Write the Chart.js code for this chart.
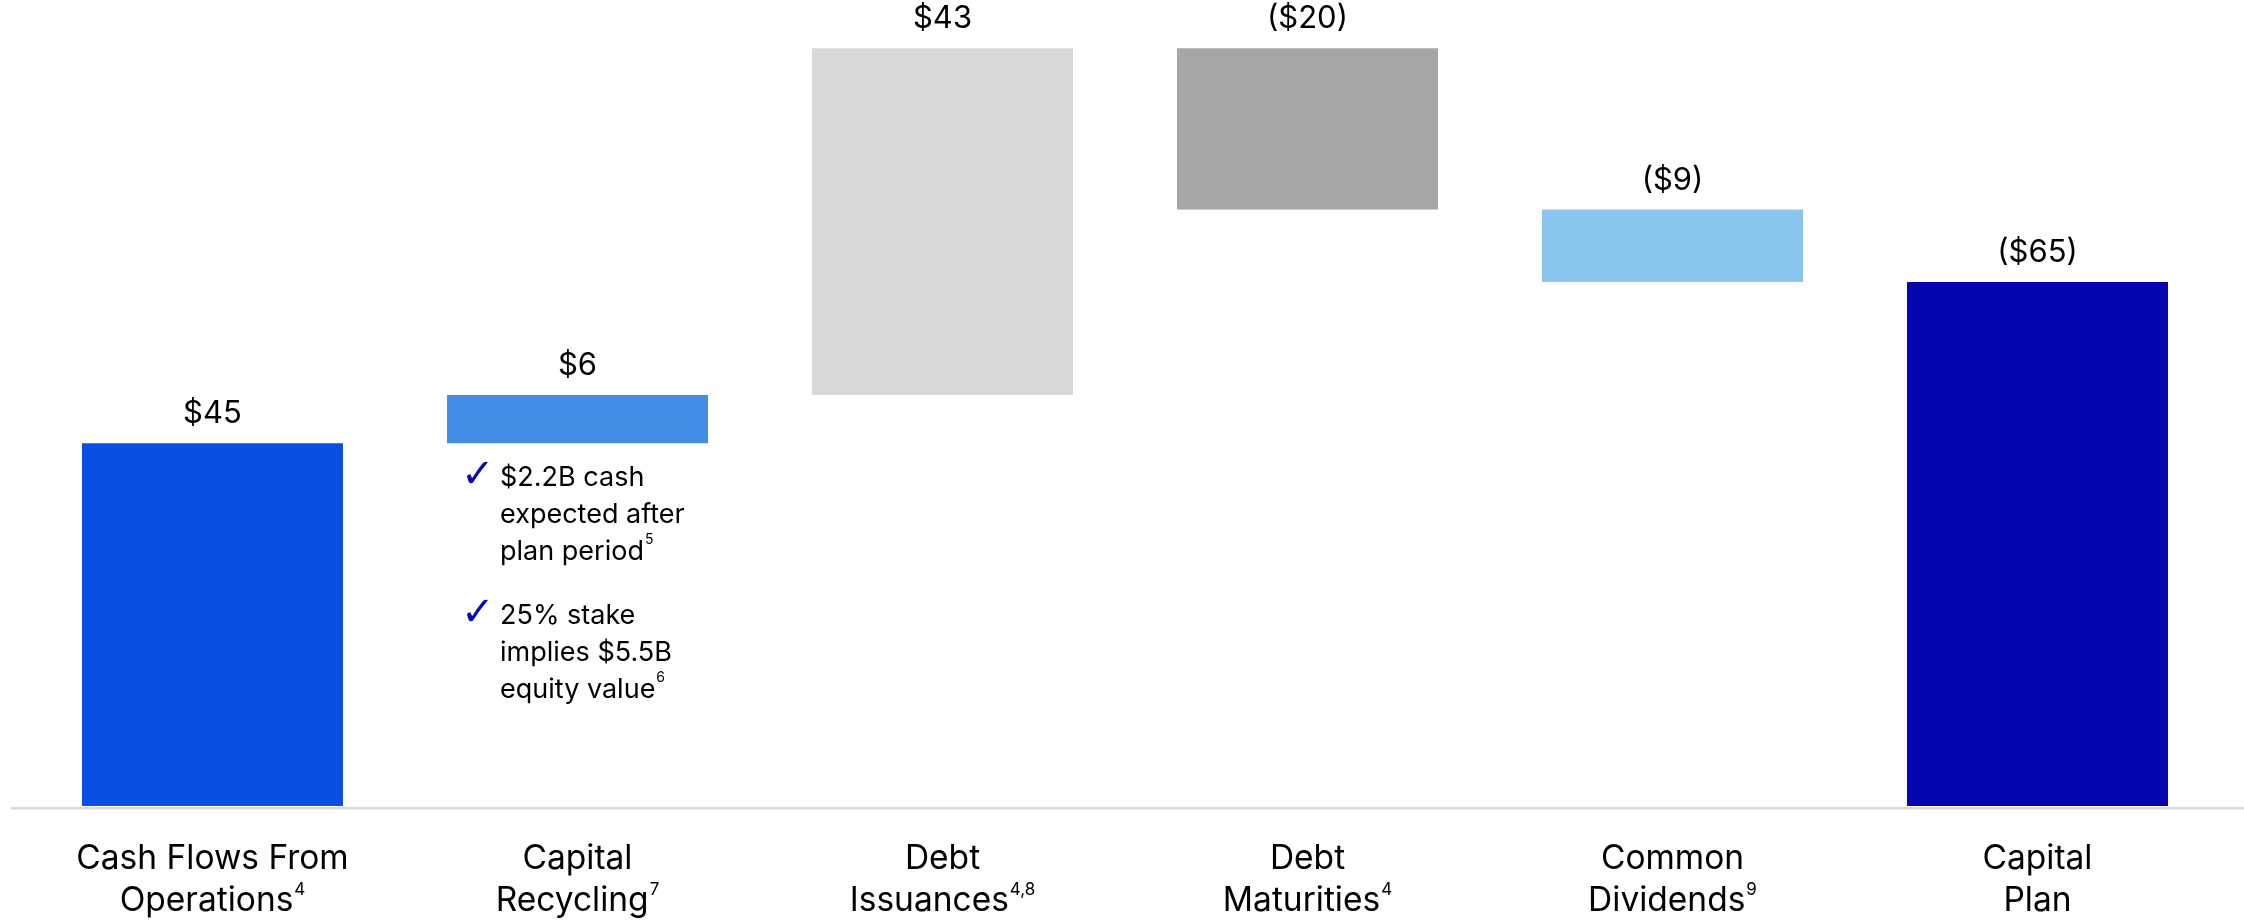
<!DOCTYPE html>
<html>
<head>
<meta charset="utf-8">
<script src="https://cdn.jsdelivr.net/npm/chart.js"></script>
<style>
  html, body { margin: 0; padding: 0; background: #fff; }
  #wrap { width: 2244px; height: 923px; }
</style>
</head>
<body>
<div id="wrap"><canvas id="chart" width="2244" height="923"></canvas></div>
<script>
// --- data ($B) ---
const categories = [
  ['Cash Flows From', 'Operations'],
  ['Capital', 'Recycling'],
  ['Debt', 'Issuances'],
  ['Debt', 'Maturities'],
  ['Common', 'Dividends'],
  ['Capital', 'Plan']
];
const footnotes = ['4', '7', '4,8', '4', '9', ''];
const changes = [45, 6, 43, -20, -9, 65];
const isTotal = [false, false, false, false, false, true];
const valueLabels = ['$45', '$6', '$43', '($20)', '($9)', '($65)'];

// note box under "Capital Recycling"
const noteIndex = 1;
const notes = [
  { lines: ['$2.2B cash', 'expected after', 'plan period'], sup: '5' },
  { lines: ['25% stake', 'implies $5.5B', 'equity value'], sup: '6' }
];

const barColors = ['#094fe3', '#438ee6', '#d9d9d9', '#a6a6a6', '#8ac5ed', '#0606b0'];

// waterfall: each step floats on the running total, totals start at 0
let running = 0;
const ranges = changes.map((v, i) => {
  if (isTotal[i]) return [0, v];
  const r = [running, running + v];
  running += v;
  return r;
});

const FONT = 'Inter, "Liberation Sans", sans-serif';

// value labels over each bar
const barLabels = {
  id: 'barLabels',
  afterDatasetsDraw(chart) {
    const ctx = chart.ctx;
    const meta = chart.getDatasetMeta(0);
    ctx.save();
    ctx.fillStyle = '#000';
    ctx.font = '31px ' + FONT;
    ctx.textAlign = 'center';
    ctx.textBaseline = 'alphabetic';
    meta.data.forEach((bar, i) => {
      const top = Math.min(bar.y, bar.base);
      ctx.fillText(valueLabels[i], bar.x, top - 20);
    });
    ctx.restore();
  }
};

// baseline rule + two-line category names with footnote marks
const categoryAxis = {
  id: 'categoryAxis',
  afterDraw(chart) {
    const ctx = chart.ctx;
    const xs = chart.scales.x;
    const bottom = chart.chartArea.bottom;
    ctx.save();
    ctx.fillStyle = '#d9d9d9';
    ctx.fillRect(11, bottom + 1, chart.width - 11, 2.5);

    ctx.fillStyle = '#000';
    ctx.textBaseline = 'alphabetic';
    categories.forEach((lines, i) => {
      const cx = xs.getPixelForValue(i);
      ctx.font = '33.5px ' + FONT;
      ctx.textAlign = 'center';
      ctx.fillText(lines[0], cx, bottom + 63);
      // second line carries the footnote
      const w1 = ctx.measureText(lines[1]).width;
      ctx.font = '17px ' + FONT;
      const w2 = footnotes[i] ? ctx.measureText(footnotes[i]).width + 1 : 0;
      const x0 = cx - (w1 + w2) / 2;
      ctx.textAlign = 'left';
      ctx.font = '33.5px ' + FONT;
      ctx.fillText(lines[1], x0, bottom + 105);
      if (footnotes[i]) {
        ctx.font = '17px ' + FONT;
        ctx.fillText(footnotes[i], x0 + w1 + 1, bottom + 89);
      }
    });
    ctx.restore();
  }
};

// check-mark notes under the capital recycling bar
const noteBox = {
  id: 'noteBox',
  afterDraw(chart) {
    const ctx = chart.ctx;
    const bar = chart.getDatasetMeta(0).data[noteIndex];
    const left = bar.x - bar.width / 2;
    const y0 = Math.max(bar.y, bar.base) + 43;
    ctx.save();
    ctx.textAlign = 'left';
    ctx.textBaseline = 'alphabetic';
    notes.forEach((n, k) => {
      const yb = y0 + k * 138;
      ctx.fillStyle = '#0a0ab4';
      ctx.font = 'bold 40px "DejaVu Sans", sans-serif';
      ctx.fillText('\u2713', left + 14, yb + 1);
      ctx.fillStyle = '#000';
      n.lines.forEach((t, j) => {
        ctx.font = '27px ' + FONT;
        ctx.fillText(t, left + 53, yb + j * 37);
        if (j === n.lines.length - 1) {
          const w = ctx.measureText(t).width;
          ctx.font = '14px ' + FONT;
          ctx.fillText(n.sup, left + 53 + w + 1, yb + j * 37 - 16);
        }
      });
    });
    ctx.restore();
  }
};

new Chart(document.getElementById('chart'), {
  type: 'bar',
  data: {
    labels: categories.map(c => c.join(' ')),
    datasets: [{
      data: ranges,
      backgroundColor: barColors,
      borderWidth: 0,
      barPercentage: 0.715,
      categoryPercentage: 1
    }]
  },
  options: {
    responsive: false,
    animation: false,
    layout: { padding: { left: 30, right: 24, top: 0, bottom: 117 } },
    scales: {
      x: { display: false },
      y: { display: false, min: 0, max: 100 }
    },
    plugins: { legend: { display: false }, tooltip: { enabled: false } }
  },
  plugins: [barLabels, categoryAxis, noteBox]
});
</script>
</body>
</html>
